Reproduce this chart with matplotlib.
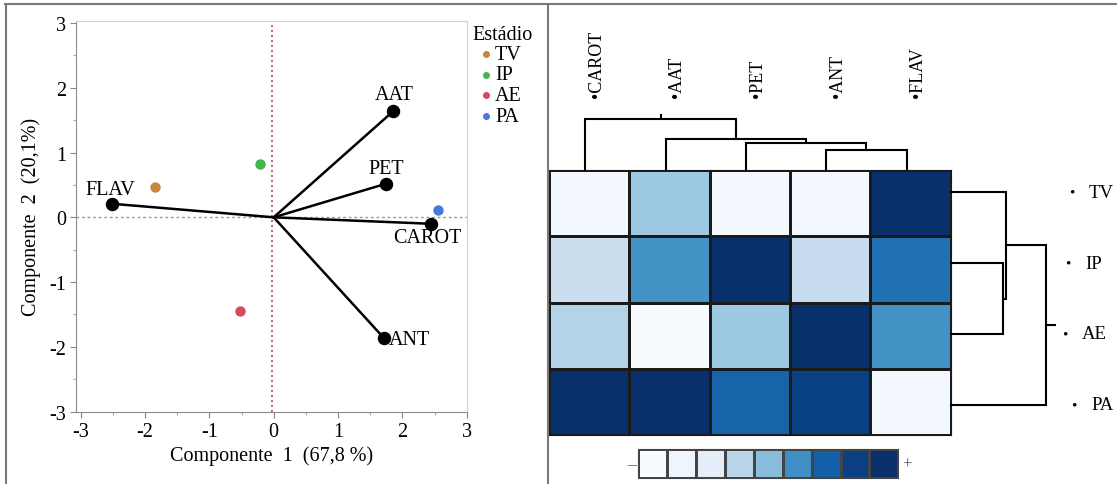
import numpy as np
import matplotlib
matplotlib.use('Agg')
import matplotlib.pyplot as plt
from matplotlib.colors import ListedColormap
from matplotlib.lines import Line2D
from matplotlib.ticker import MultipleLocator

W, H = 1117, 485
plt.rcParams['font.family'] = ['Liberation Serif', 'DejaVu Serif']
plt.rcParams['axes.unicode_minus'] = False

# ---------------- data ----------------
variables = ['AAT', 'PET', 'CAROT', 'ANT', 'FLAV']
var_pc1 = [1.86, 1.75, 2.45, 1.71, -2.52]
var_pc2 = [1.64, 0.52, -0.10, -1.86, 0.21]

stages = ['TV', 'IP', 'AE', 'PA']
stage_pc1 = [-1.85, -0.22, -0.52, 2.55]
stage_pc2 = [0.47, 0.82, -1.44, 0.11]
stage_colors = ['#c8873c', '#45b449', '#d14b5c', '#4a78d8']

heat_cols = ['CAROT', 'AAT', 'PET', 'ANT', 'FLAV']
heat_rows = ['TV', 'IP', 'AE', 'PA']
heat_values = [
    [0.02, 0.38, 0.02, 0.02, 1.00],
    [0.23, 0.62, 1.00, 0.24, 0.75],
    [0.31, 0.00, 0.38, 1.00, 0.62],
    [1.00, 1.00, 0.80, 0.94, 0.02],
]
# linkage: [child_a, child_b, height]  (leaf order as displayed)
col_linkage = [[3, 4, 20.3], [2, 5, 27.3], [1, 6, 30.7], [0, 7, 51.0]]
row_linkage = [[1, 2, 51.7], [0, 4, 54.7], [3, 5, 95.0]]

scale_colors = ['#f7fbff', '#eef5fc', '#e3eef9', '#b9d5ea', '#88bedc',
                '#3f8fc5', '#1460a8', '#0b3f84', '#0a2f6b']

# ---------------- helpers ----------------
fig = plt.figure(figsize=(W / 100, H / 100), dpi=100)


def px_axes(l, t, r, b):
    return fig.add_axes([l / W, 1 - b / H, (r - l) / W, (b - t) / H])


def draw_dendro(ax, linkage, n, orient, stub, lw=1.5):
    pos = {i: i + 0.5 for i in range(n)}
    hgt = {i: 0.0 for i in range(n)}
    for k, (a, b, h) in enumerate(linkage):
        pa, pb, ha, hb = pos[a], pos[b], hgt[a], hgt[b]
        xs = [pa, pa, pb, pb]
        ys = [ha, h, h, hb]
        if orient == 'top':
            ax.plot(xs, ys, color='black', lw=lw, clip_on=False, solid_joinstyle='miter')
        else:
            ax.plot(ys, xs, color='black', lw=lw, clip_on=False, solid_joinstyle='miter')
        pos[n + k] = (pa + pb) / 2
        hgt[n + k] = h
    root = n + len(linkage) - 1
    if orient == 'top':
        ax.plot([pos[root]] * 2, [hgt[root], hgt[root] + stub], color='black', lw=lw, clip_on=False)
    else:
        ax.plot([hgt[root], hgt[root] + stub], [pos[root]] * 2, color='black', lw=lw, clip_on=False)


# ---------------- left: PCA biplot ----------------
ax = px_axes(76, 21.7, 467, 413)
ax.set_xlim(-3.073, 3.005)
ax.set_ylim(-3.005, 3.035)
ax.axhline(0, color='#9a9a9a', lw=1.0, ls=(0, (2, 2)), zorder=1)
ax.axvline(-0.02, color='#a8505a', lw=1.2, ls=(0, (1.2, 1.8)), zorder=1)

for name, x, y in zip(variables, var_pc1, var_pc2):
    ax.plot([0, x], [0, y], color='black', lw=1.8, zorder=3)
ax.scatter(var_pc1, var_pc2, s=75, color='black', zorder=4)
label_offsets = {'AAT': (1, 12, 'center'), 'PET': (0, 11, 'center'),
                 'FLAV': (-1, 10, 'center'), 'CAROT': (-3, -10, 'center'),
                 'ANT': (4, -1.5, 'left')}
for name, x, y in zip(variables, var_pc1, var_pc2):
    dx, dy, ha = label_offsets[name]
    ax.annotate(name, (x, y), xytext=(dx, dy), textcoords='offset points',
                ha=ha, va='center', fontsize=14.5)

for st, x, y, c in zip(stages, stage_pc1, stage_pc2, stage_colors):
    ax.scatter([x], [y], s=42, color=c, zorder=5)

ax.xaxis.set_major_locator(MultipleLocator(1))
ax.yaxis.set_major_locator(MultipleLocator(1))
ax.xaxis.set_minor_locator(MultipleLocator(0.5))
ax.yaxis.set_minor_locator(MultipleLocator(0.5))
ax.tick_params(which='major', length=4, width=0.8, color='#888888', labelsize=14.5, pad=3)
ax.tick_params(which='minor', length=2.5, width=0.8, color='#aaaaaa')
for s in ['left', 'bottom']:
    ax.spines[s].set_color('#8c8c8c')
for s in ['top', 'right']:
    ax.spines[s].set_color('#d0d0d0')
ax.set_xlabel('Componente  1  (67,8 %)', fontsize=14.5, labelpad=3)
ax.set_ylabel('Componente  2  (20,1%)', fontsize=14.5, labelpad=6)

# legend (drawn by hand to match the layout)
fig.text(472 / W, 1 - 35 / H, 'Estádio', ha='left', va='center', fontsize=14.5)
for i, (st, c) in enumerate(zip(stages, stage_colors)):
    yy = 1 - (55 + 20.7 * i) / H
    fig.add_artist(Line2D([486 / W], [yy], marker='o', markersize=4, color=c,
                          lw=0, transform=fig.transFigure))
    fig.text(495 / W, yy, st, ha='left', va='center', fontsize=14.5)

# ---------------- right: clustered heatmap ----------------
hax = px_axes(549, 171, 950.8, 436)
vals = np.array(heat_values)
hax.pcolormesh(vals, cmap='Blues', vmin=0, vmax=1, edgecolors='#1a1a1a', linewidth=0.8)
hax.set_xlim(0, len(heat_cols))
hax.set_ylim(len(heat_rows), 0)
hax.set_xticks([])
hax.set_yticks([])
for s in hax.spines.values():
    s.set_color('#1a1a1a')
    s.set_linewidth(0.8)
for i, name in enumerate(heat_cols):
    hax.text(i + 0.59, 1.275, '•' + name, transform=hax.get_xaxis_transform(),
             rotation=90, ha='center', va='bottom', fontsize=13)

# top dendrogram (columns)
tax = px_axes(545, 111, 946.8, 171)
tax.set_xlim(0, len(heat_cols))
tax.set_ylim(0, 60)
tax.axis('off')
draw_dendro(tax, col_linkage, len(heat_cols), 'top', stub=4.3)

# right dendrogram (rows)
rax = px_axes(951, 157.9, 1061, 441.1)
rax.set_ylim(len(heat_rows), 0)
rax.set_xlim(0, 110)
rax.axis('off')
draw_dendro(rax, row_linkage, len(heat_rows), 'right', stub=9)
bullet_px = [1072, 1068, 1065, 1074]
for i, (name, bx) in enumerate(zip(heat_rows, bullet_px)):
    rax.text((bx - 951) / 110, i + 0.5, '•', transform=rax.get_yaxis_transform(),
             ha='center', va='center', fontsize=11, clip_on=False)
    rax.text((bx + 17 - 951) / 110, i + 0.5, name, transform=rax.get_yaxis_transform(),
             ha='left', va='center', fontsize=13.5, clip_on=False)

# colour scale
cax = px_axes(638.3, 450, 898.3, 479.3)
cax.pcolormesh(np.arange(len(scale_colors))[None, :], cmap=ListedColormap(scale_colors),
               vmin=-0.5, vmax=len(scale_colors) - 0.5, edgecolors='#444444', linewidth=0.8)
cax.set_xticks([])
cax.set_yticks([])
for s in cax.spines.values():
    s.set_color('#444444')
    s.set_linewidth(0.8)
fig.text(631.5 / W, 1 - 466 / H, '–', ha='center', va='center', fontsize=13, color='#555555')
fig.text(907 / W, 1 - 465 / H, '+', ha='center', va='center', fontsize=12, color='#555555')

# panel frame
frame_kw = dict(color='#7a7a7a', lw=1.5, transform=fig.transFigure)
fig.add_artist(Line2D([5.5 / W, 5.5 / W], [0, 1 - 4.5 / H], **frame_kw))
fig.add_artist(Line2D([5 / W, 1], [1 - 4.5 / H, 1 - 4.5 / H], **frame_kw))
fig.add_artist(Line2D([548 / W, 548 / W], [0, 1 - 4.5 / H], **frame_kw))

fig.savefig('out.png', dpi=100)
